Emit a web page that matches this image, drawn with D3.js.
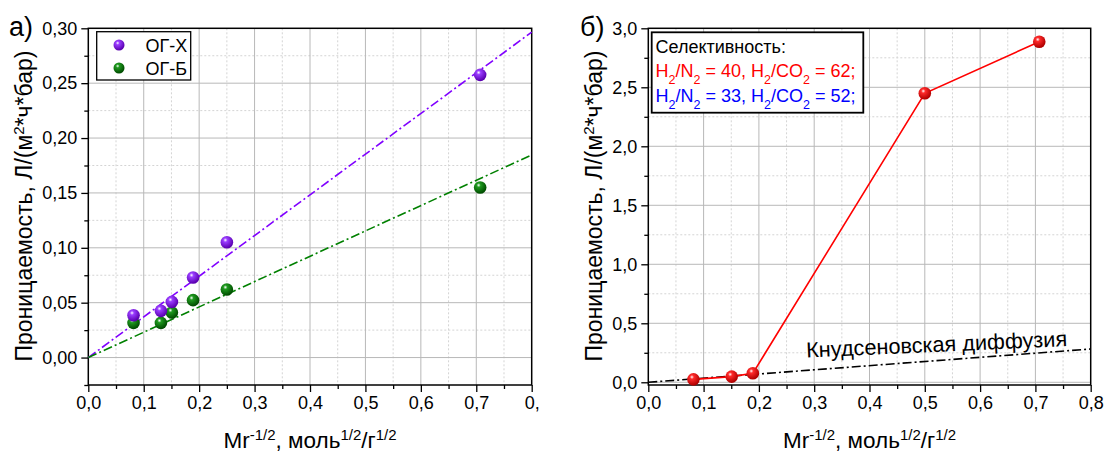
<!DOCTYPE html>
<html><head><meta charset="utf-8">
<script src="https://cdn.jsdelivr.net/npm/d3@7"></script>
<style>body{margin:0;background:#fff}svg{display:block}text{font-family:"Liberation Sans",Arial,sans-serif}</style>
</head><body>
<svg id="c" width="1106" height="454"></svg>
<script>
// ---- data ----
const xA = [0.0816, 0.131, 0.1508, 0.189, 0.25, 0.707];
const ogX = [0.0386, 0.0425, 0.0507, 0.073, 0.105, 0.2576];
const ogB = [0.0316, 0.0316, 0.041, 0.0523, 0.062, 0.155];
const fitX = [0, 0.8];
const fitOgX = [0, 0.2965];
const fitOgB = [0, 0.1846];
const xTickLabelsA = ["0,0","0,1","0,2","0,3","0,4","0,5","0,6","0,7","0,"];
const yTickLabelsA = ["0,00","0,05","0,10","0,15","0,20","0,25","0,30"];
const seriesNamesA = ["ОГ-Х","ОГ-Б"];

const xB = [0.0816, 0.1508, 0.189, 0.5, 0.707];
const permB = [0.025, 0.048, 0.076, 2.449, 2.886];
const knudsenX = [0, 0.8];
const knudsenY = [0, 0.282];
const xTickLabelsB = ["0,0","0,1","0,2","0,3","0,4","0,5","0,6","0,7","0,8"];
const yTickLabelsB = ["0,0","0,5","1,0","1,5","2,0","2,5","3,0"];

const svg = d3.select("#c");
const defs = svg.append("defs");
function ballGrad(id, base, dark) {
  const g = defs.append("radialGradient").attr("id", id).attr("cx","38%").attr("cy","32%").attr("r","65%");
  g.append("stop").attr("offset","0%").attr("stop-color","#ffffff");
  g.append("stop").attr("offset","25%").attr("stop-color",base);
  g.append("stop").attr("offset","100%").attr("stop-color",dark);
}
ballGrad("gP","#9a3dff","#5a00b0");
ballGrad("gG","#1f9a1f","#004d00");
ballGrad("gR","#ff2a2a","#b00000");

function panel(o) {
  const x = d3.scaleLinear().domain([0,0.8]).range([o.left,o.right]);
  const y = d3.scaleLinear().domain(o.yDomain).range([o.bottom,o.top]);
  const g = svg.append("g");
  // grid
  const xMaj = d3.range(0.1,0.8,0.1), xMin = d3.range(0.05,0.8,0.1);
  g.selectAll(".gxm").data(xMin).join("line").attr("x1",d=>x(d)).attr("x2",d=>x(d)).attr("y1",o.top).attr("y2",o.bottom)
    .attr("stroke","#d4d4d4").attr("stroke-dasharray","2,2");
  g.selectAll(".gym").data(o.yMinor).join("line").attr("y1",d=>y(d)).attr("y2",d=>y(d)).attr("x1",o.left).attr("x2",o.right)
    .attr("stroke","#d4d4d4").attr("stroke-dasharray","2,2");
  g.selectAll(".gx").data(xMaj).join("line").attr("x1",d=>x(d)).attr("x2",d=>x(d)).attr("y1",o.top).attr("y2",o.bottom)
    .attr("stroke","#b8b8b8");
  g.selectAll(".gy").data(o.yMajor).join("line").attr("y1",d=>y(d)).attr("y2",d=>y(d)).attr("x1",o.left).attr("x2",o.right)
    .attr("stroke","#b8b8b8");
  // axes
  const xAx = d3.axisBottom(x).tickValues(d3.range(0,9).map(i=>i/10)).tickFormat((d,i)=>o.xLabels[i]).tickSize(7).tickPadding(4);
  const xAxMin = d3.axisBottom(x).tickValues(d3.range(0.05,0.8,0.1)).tickFormat("").tickSize(4);
  const yAx = d3.axisLeft(y).tickValues(o.yMajorTicks).tickFormat((d,i)=>o.yLabels[i]).tickSize(7).tickPadding(4);
  const yAxMin = d3.axisLeft(y).tickValues(o.yMinorTicks).tickFormat("").tickSize(4);
  [[xAx,"x"],[xAxMin,"x"],[yAx,"y"],[yAxMin,"y"]].forEach(([ax,t])=>{
    const a = g.append("g").attr("transform", t==="x" ? `translate(0,${o.bottom})` : `translate(${o.left},0)`).call(ax);
    a.select(".domain").remove();
    a.selectAll("line").attr("stroke","#000").attr("stroke-width",1.3);
    a.selectAll("text").attr("font-size",18).attr("fill","#000").style("font-family",'"Liberation Sans",Arial,sans-serif');
  });
  // frame
  g.append("rect").attr("x",o.left).attr("y",o.top).attr("width",o.right-o.left).attr("height",o.bottom-o.top)
    .attr("fill","none").attr("stroke","#000").attr("stroke-width",1.5);
  // y title
  const yt = g.append("text").attr("transform",`translate(${o.ytX},206) rotate(-90)`).attr("text-anchor","middle").attr("font-size",23);
  yt.append("tspan").text("Проницаемость, Л/(м");
  yt.append("tspan").attr("baseline-shift","super").attr("font-size",15).text("2");
  yt.append("tspan").text("*ч*бар)");
  // x title
  const xt = g.append("text").attr("x",(o.left+o.right)/2).attr("y",448).attr("text-anchor","middle").attr("font-size",22.5);
  xt.append("tspan").text("Mr");
  xt.append("tspan").attr("baseline-shift","super").attr("font-size",15).text("-1/2");
  xt.append("tspan").text(", моль");
  xt.append("tspan").attr("baseline-shift","super").attr("font-size",15).text("1/2");
  xt.append("tspan").text("/г");
  xt.append("tspan").attr("baseline-shift","super").attr("font-size",15).text("1/2");
  // panel letter
  g.append("text").attr("x",o.letterX).attr("y",36).attr("font-size",27).text(o.letter);
  return {x,y,g};
}

const A = panel({left:88.3,right:531.7,top:28.3,bottom:385,yDomain:[-0.025,0.30],
  yMajor:[0,0.05,0.1,0.15,0.2,0.25], yMinor:[0.025,0.075,0.125,0.175,0.225,0.275],
  yMajorTicks:[0,0.05,0.1,0.15,0.2,0.25,0.3], yMinorTicks:[-0.025,0.025,0.075,0.125,0.175,0.225,0.275],
  xLabels:xTickLabelsA, yLabels:yTickLabelsA, ytX:31.5, letter:"а)", letterX:9});

const B = panel({left:648.3,right:1090.7,top:28.3,bottom:385,yDomain:[-0.023,3.0],
  yMajor:[0,0.5,1,1.5,2,2.5], yMinor:[0.25,0.75,1.25,1.75,2.25,2.75],
  yMajorTicks:[0,0.5,1,1.5,2,2.5,3], yMinorTicks:[0.25,0.75,1.25,1.75,2.25,2.75],
  xLabels:xTickLabelsB, yLabels:yTickLabelsB, ytX:601.5, letter:"б)", letterX:580});

// panel A content
const dash = "9,3,2,3";
[[fitOgX,"#8000ff"],[fitOgB,"#008000"]].forEach(([ys,c])=>{
  A.g.append("path").datum(fitX.map((d,i)=>[d,ys[i]]))
    .attr("d",d3.line().x(d=>A.x(d[0])).y(d=>A.y(d[1])))
    .attr("stroke",c).attr("stroke-width",1.6).attr("fill","none").attr("stroke-dasharray",dash);
});
[[ogB,"gG"],[ogX,"gP"]].forEach(([ys,gid])=>{
  A.g.selectAll(null).data(xA.map((d,i)=>[d,ys[i]])).join("circle")
    .attr("cx",d=>A.x(d[0])).attr("cy",d=>A.y(d[1])).attr("r",6.3).attr("fill",`url(#${gid})`);
});
// legend A
const la = A.g.append("g");
la.append("rect").attr("x",96.7).attr("y",31.7).attr("width",94).attr("height",48.3).attr("fill","#fff").attr("stroke","#000").attr("stroke-width",1.3);
seriesNamesA.forEach((n,i)=>{
  la.append("circle").attr("cx",119).attr("cy",45+i*23).attr("r",5.5).attr("fill",i===0?"url(#gP)":"url(#gG)");
  la.append("text").attr("x",145.5).attr("y",51.5+i*23).attr("font-size",18).text(n);
});

// panel B content
B.g.append("path").datum(knudsenX.map((d,i)=>[d,knudsenY[i]]))
  .attr("d",d3.line().x(d=>B.x(d[0])).y(d=>B.y(d[1])))
  .attr("stroke","#000").attr("stroke-width",1.6).attr("fill","none").attr("stroke-dasharray",dash);
B.g.append("path").datum(xB.map((d,i)=>[d,permB[i]]))
  .attr("d",d3.line().x(d=>B.x(d[0])).y(d=>B.y(d[1])))
  .attr("stroke","#ff0000").attr("stroke-width",1.6).attr("fill","none");
B.g.selectAll(null).data(xB.map((d,i)=>[d,permB[i]])).join("circle")
  .attr("cx",d=>B.x(d[0])).attr("cy",d=>B.y(d[1])).attr("r",6.3).attr("fill","url(#gR)");
B.g.append("text").attr("transform","translate(806.5,357.5) rotate(-2.5)").attr("font-size",21.7).text("Кнудсеновская диффузия");

// legend B
const lb = B.g.append("g");
lb.append("rect").attr("x",651.7).attr("y",32.3).attr("width",211.6).attr("height",80.4).attr("fill","#fff").attr("stroke","#000").attr("stroke-width",1.8);
lb.append("text").attr("x",655.5).attr("y",53).attr("font-size",18).text("Селективность:");
function selLine(yy,color,a,b){
  const t = lb.append("text").attr("x",655.5).attr("y",yy).attr("font-size",18).attr("fill",color);
  t.append("tspan").text("H");
  t.append("tspan").attr("baseline-shift","sub").attr("font-size",12.5).text("2");
  t.append("tspan").text("/N");
  t.append("tspan").attr("baseline-shift","sub").attr("font-size",12.5).text("2");
  t.append("tspan").text(` = ${a}, H`);
  t.append("tspan").attr("baseline-shift","sub").attr("font-size",12.5).text("2");
  t.append("tspan").text("/CO");
  t.append("tspan").attr("baseline-shift","sub").attr("font-size",12.5).text("2");
  t.append("tspan").text(` = ${b};`);
}
selLine(76.5,"#ff0000",40,62);
selLine(101.5,"#0000ff",33,52);
</script>
</body></html>
